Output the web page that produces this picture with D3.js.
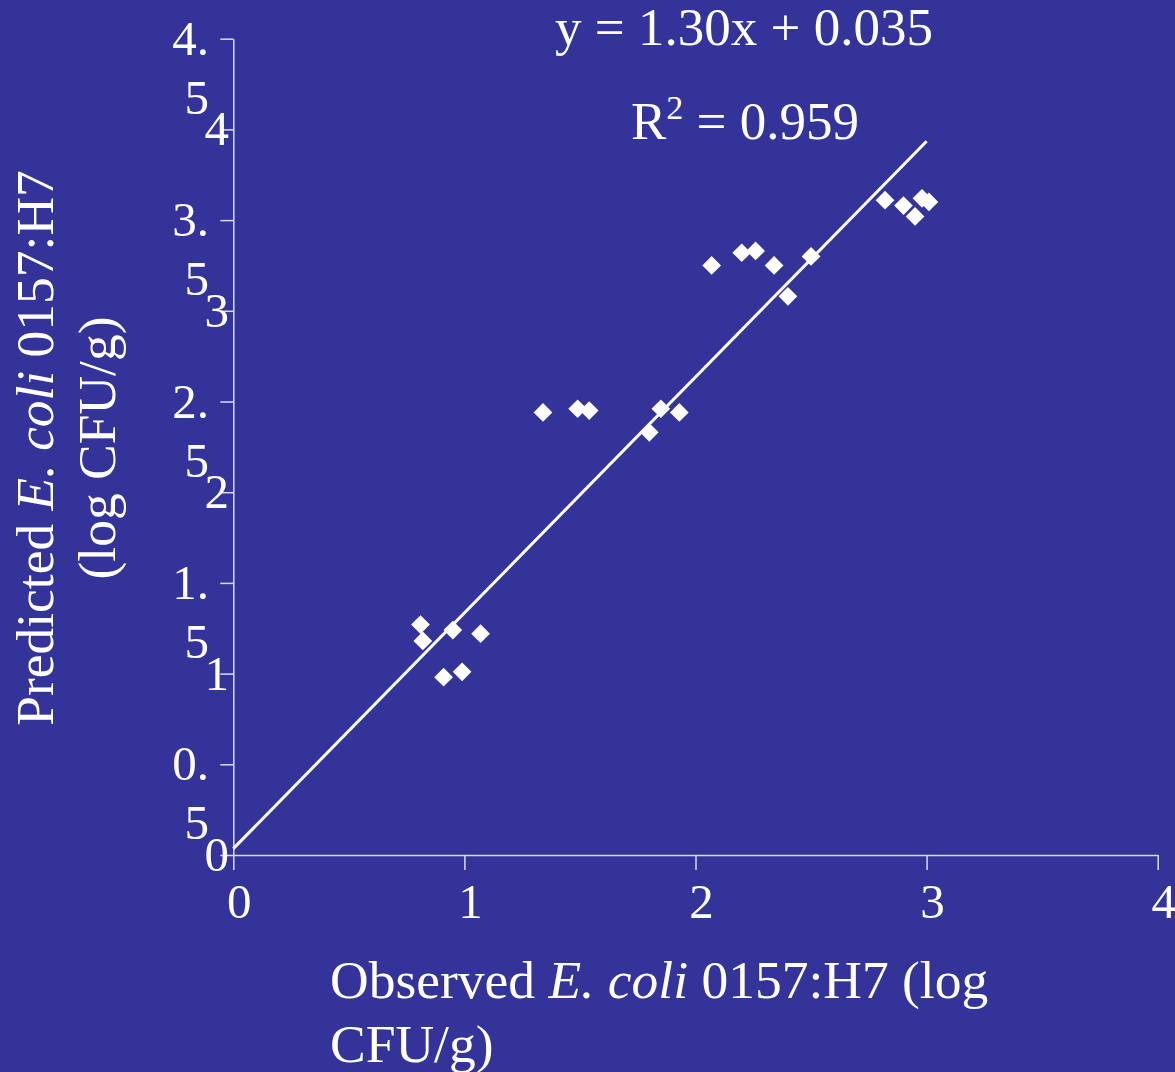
<!DOCTYPE html>
<html>
<head>
<meta charset="utf-8">
<script src="https://cdn.jsdelivr.net/npm/d3@7"></script>
<style>
  body { margin: 0; background: #333399; }
  svg text { font-family: "Liberation Serif", "Times New Roman", serif; fill: #ffffff; }
  .axis path, .axis line { stroke: #dcdcee; stroke-width: 1.5; }
</style>
</head>
<body>
<div id="scatter"></div>
<script>

// observed vs predicted (log CFU/g)
var observed = [0.81, 0.82, 0.95, 1.07, 0.91, 0.99,
  1.34, 1.49, 1.54, 1.85, 1.93, 1.80,
  2.07, 2.20, 2.26, 2.34, 2.50, 2.40,
  2.82, 2.90, 2.95, 2.98, 3.01];
var predicted = [1.27, 1.18, 1.24, 1.22, 0.98, 1.01,
  2.44, 2.46, 2.45, 2.46, 2.44, 2.33,
  3.25, 3.32, 3.33, 3.25, 3.30, 3.08,
  3.61, 3.58, 3.52, 3.62, 3.60];

// regression line as printed on the chart
var slope = 1.30;
var intercept = 0.035;
var trendX = [0, 3];

var xTicks = [0, 1, 2, 3, 4];
var xTickLabels = ["0", "1", "2", "3", "4"];
var yTicks = [0, 0.5, 1, 1.5, 2, 2.5, 3, 3.5, 4, 4.5];
var yTickLabels = ["0", "0.5", "1", "1.5", "2", "2.5", "3", "3.5", "4", "4.5"];

var svgWidth = 1175;
var svgHeight = 1072;

var svg = d3.select("#scatter")
  .append("svg")
  .attr("width", svgWidth)
  .attr("height", svgHeight);

svg.append("rect")
  .attr("width", svgWidth)
  .attr("height", svgHeight)
  .attr("fill", "#333399");

// scales
var xScale = d3.scaleLinear().domain([0, 4]).range([233.3, 1157.7]);
var yScale = d3.scaleLinear().domain([0, 4.5]).range([855, 38.7]);

// axes, labels drawn by hand below
var xAxis = svg.append("g")
  .attr("class", "axis")
  .attr("transform", "translate(0, 855)")
  .call(d3.axisBottom(xScale).tickValues(xTicks).tickSize(15).tickSizeOuter(0).tickFormat(""));

var yAxis = svg.append("g")
  .attr("class", "axis")
  .attr("transform", "translate(233.3, 0)")
  .call(d3.axisLeft(yScale).tickValues(yTicks).tickSize(13).tickSizeOuter(0).tickFormat(""));

svg.selectAll(".axis .domain").attr("fill", "none");

// x tick labels
svg.append("g").selectAll("text")
  .data(xTicks)
  .enter()
  .append("text")
  .attr("x", d => xScale(d) + 6)
  .attr("y", 918)
  .attr("text-anchor", "middle")
  .attr("font-size", "49px")
  .text((d, i) => xTickLabels[i]);

// y tick labels - the half values wrap onto two lines like in the original
var yLabels = svg.append("g");
yTicks.forEach(function(t, i) {
  var parts = yTickLabels[i].split(".");
  var y0 = yScale(t);
  if (parts.length === 1) {
    yLabels.append("text")
      .attr("x", 229)
      .attr("y", y0 + 16)
      .attr("text-anchor", "end")
      .attr("font-size", "49px")
      .text(parts[0]);
  } else {
    yLabels.append("text")
      .attr("x", 209)
      .attr("y", y0 + 16)
      .attr("text-anchor", "end")
      .attr("font-size", "49px")
      .text(parts[0] + ".");
    yLabels.append("text")
      .attr("x", 209)
      .attr("y", y0 + 75)
      .attr("text-anchor", "end")
      .attr("font-size", "49px")
      .text(parts[1]);
  }
});

// trend line
var line = d3.line()
  .x(d => xScale(d))
  .y(d => yScale(slope * d + intercept));

svg.append("path")
  .datum(trendX)
  .attr("d", line)
  .attr("fill", "none")
  .attr("stroke", "#ffffff")
  .attr("stroke-width", 3);

// diamond markers
var diamond = d3.symbol().type(d3.symbolSquare).size(175);

svg.append("g").selectAll("path")
  .data(observed)
  .enter()
  .append("path")
  .attr("d", diamond)
  .attr("transform", (d, i) => `translate(${xScale(d)}, ${yScale(predicted[i])}) rotate(45)`)
  .attr("fill", "#ffffff");

// equation + R squared
svg.append("text")
  .attr("x", 744)
  .attr("y", 45)
  .attr("text-anchor", "middle")
  .attr("font-size", "53px")
  .text("y = " + slope.toFixed(2) + "x + " + intercept.toFixed(3));

var r2 = svg.append("text")
  .attr("x", 631)
  .attr("y", 139)
  .attr("font-size", "53px");
r2.append("tspan").text("R");
r2.append("tspan").attr("font-size", "34px").attr("dy", -20).text("2");
r2.append("tspan").attr("dy", 20).text(" = 0.959");

// x axis title
var xTitle = svg.append("g").attr("font-size", "53.5px");
var xLine1 = xTitle.append("text").attr("x", 330).attr("y", 998);
xLine1.append("tspan").text("Observed ");
xLine1.append("tspan").attr("font-style", "italic").text("E. coli");
xLine1.append("tspan").text(" 0157:H7 (log");
xTitle.append("text").attr("x", 330).attr("y", 1062).text("CFU/g)");

// y axis title
var yTitle = svg.append("g").attr("font-size", "53.5px");
var yLine1 = yTitle.append("text")
  .attr("transform", "translate(53, 448) rotate(-90)")
  .attr("text-anchor", "middle");
yLine1.append("tspan").text("Predicted ");
yLine1.append("tspan").attr("font-style", "italic").text("E. coli");
yLine1.append("tspan").text(" 0157:H7");
yTitle.append("text")
  .attr("transform", "translate(115, 448) rotate(-90)")
  .attr("text-anchor", "middle")
  .text("(log CFU/g)");

</script>
</body>
</html>
